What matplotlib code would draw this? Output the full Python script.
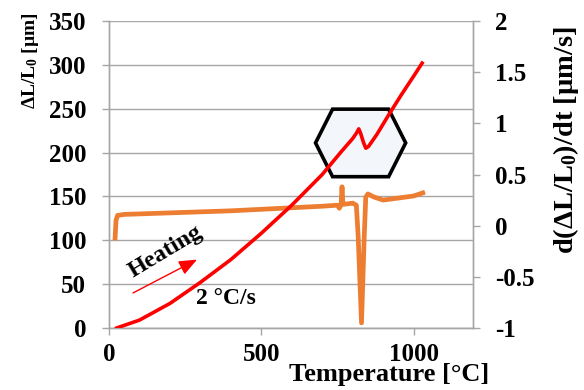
import matplotlib
matplotlib.use("Agg")
import matplotlib.pyplot as plt
from matplotlib.patches import Polygon
import numpy as np

plt.rcParams['font.family'] = ['Liberation Serif', 'DejaVu Serif']
plt.rcParams['font.weight'] = 'bold'
plt.rcParams['mathtext.fontset'] = 'custom'
plt.rcParams['mathtext.rm'] = 'Liberation Serif:bold'
plt.rcParams['mathtext.it'] = 'Liberation Serif:bold'
plt.rcParams['mathtext.bf'] = 'Liberation Serif:bold'
plt.rcParams['mathtext.default'] = 'rm'

# ---- data ----
temp_dl = [25, 100, 200, 300, 400, 500, 600, 700, 760, 800, 812, 820, 826,
           836, 843, 852, 880, 920, 960, 1000, 1028]
dl = [0, 9, 28, 52, 78, 108, 140, 175, 200, 216, 222, 227, 222,
      211, 205, 207, 221, 244, 266, 287, 302]

temp_rate = [20, 23, 28, 50, 100, 200, 300, 400, 500, 600, 700, 750, 756,
             762, 765, 768, 774, 800, 812, 818, 829, 838, 843, 850, 870,
             900, 950, 1000, 1030]
rate = [-0.12, 0.05, 0.10, 0.11, 0.115, 0.125, 0.135, 0.145, 0.16, 0.175,
        0.19, 0.20, 0.17, 0.21, 0.38, 0.21, 0.21, 0.22, 0.20, -0.10, -0.95,
        -0.10, 0.28, 0.31, 0.28, 0.25, 0.27, 0.29, 0.32]

x_ticks = [0, 500, 1000]
left_ticks = [0, 50, 100, 150, 200, 250, 300, 350]
right_ticks = [-1, -0.5, 0, 0.5, 1, 1.5, 2]
right_labels = ['-1', '-0.5', '0', '0.5', '1', '1.5', '2']

# hexagon highlight (data coords of left axis)
hex_center = (826, 211)
hex_halfw = 148
hex_topw = 92
hex_halfh = 38.5

grid_c = '#a6a6a6'
red = '#ff0000'
orange = '#ed7d31'

fig = plt.figure(figsize=(5.84, 3.90), dpi=100)
ax = fig.add_axes([109/584, 1-328/390, (473-109)/584, (328-21)/390])
ax2 = ax.twinx()

ax.set_xlim(0, 1195)
ax.set_ylim(0, 350)
ax2.set_ylim(-1, 2)

# gridlines
ax.set_yticks(left_ticks)
ax.grid(axis='y', color=grid_c, lw=1.0)
ax.set_axisbelow(True)

ax.spines['top'].set_visible(False)
ax2.spines['top'].set_visible(False)
for a in (ax, ax2):
    for s in ['left', 'right', 'bottom']:
        a.spines[s].set_color(grid_c)
        a.spines[s].set_linewidth(1.0)

ax.set_xticks(x_ticks)
ax.tick_params(axis='both', labelsize=18, color=grid_c, length=5, width=1, direction='out')
ax.tick_params(axis='x', pad=6)
ax.tick_params(axis='y', pad=11.5)
ax2.set_yticks(right_ticks)
ax2.set_yticklabels(right_labels)
ax2.tick_params(axis='y', labelsize=18, color=grid_c, length=5, width=1, direction='out', pad=11)
for lab in ax.get_xticklabels() + ax.get_yticklabels() + ax2.get_yticklabels():
    lab.set_fontweight('bold')

# hexagon (drawn on ax2 using left axis data transform)
cx, cy = hex_center
hx = [cx - hex_halfw, cx - hex_topw, cx + hex_topw, cx + hex_halfw, cx + hex_topw, cx - hex_topw]
hy = [cy, cy + hex_halfh, cy + hex_halfh, cy, cy - hex_halfh, cy - hex_halfh]
hexagon = Polygon(np.column_stack([hx, hy]), closed=True, facecolor='#f3f7fb',
                  edgecolor='black', lw=2.6, transform=ax.transData, zorder=2)
ax2.add_patch(hexagon)

# derivative (orange) on right axis
ax2.plot(temp_rate, rate, color=orange, lw=3.4, solid_joinstyle='round', zorder=3)
# expansion (red) on left axis scale, drawn above
ax2.plot(temp_dl, dl, color=red, lw=2.6, transform=ax.transData, zorder=4)

# labels
ax.set_ylabel(r'ΔL/L$_0$ [µm]', fontsize=14, fontweight='bold')
ax.yaxis.label.set_va('center')
ax.yaxis.set_label_coords(-0.217, 0.87)
ax2.set_ylabel(r'd(ΔL/L$_0$)/dt [µm/s]', fontsize=20.5, fontweight='bold', rotation=90)
ax2.yaxis.label.set_va('center')
ax2.yaxis.set_label_coords(1.255, 0.612)
ax.set_xlabel('Temperature [°C]', fontsize=19, fontweight='bold')
ax.xaxis.label.set_va('center')
ax.xaxis.set_label_coords(0.769, -0.153)

# annotations
ax.annotate('', xy=(289, 78), xytext=(79, 40),
            arrowprops=dict(arrowstyle='-|>,head_length=1.1,head_width=0.45',
                            color=red, lw=1.0, shrinkA=0, shrinkB=0))
ax.text(184, 87, 'Heating', fontsize=17.5, fontweight='bold', rotation=31,
        ha='center', va='center')
ax.text(384, 34, '2 °C/s', fontsize=17, fontweight='bold', ha='center', va='center')

fig.savefig('out.png', dpi=100)
